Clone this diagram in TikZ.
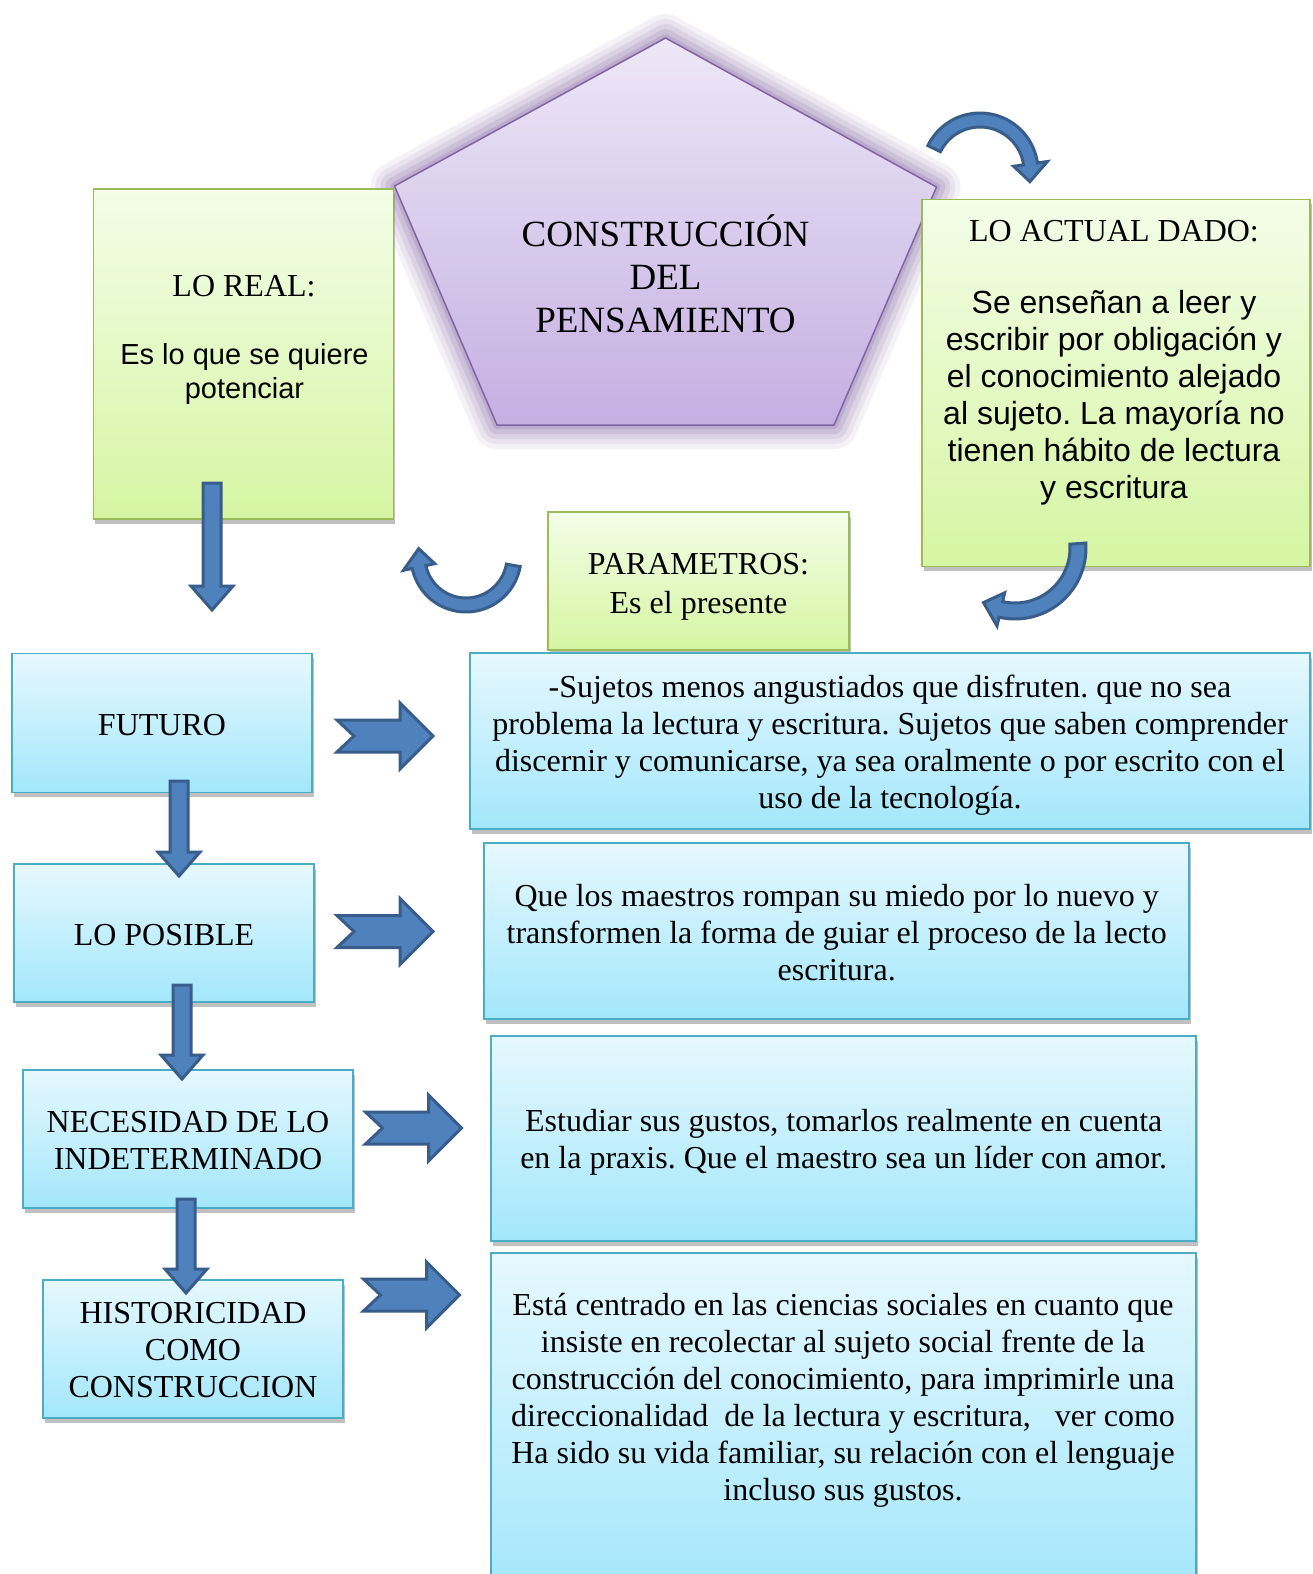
\documentclass[tikz,border=0pt]{standalone}
\usepackage{fontspec}
\setmainfont{Liberation Serif}
\newfontfamily\arialf{Liberation Sans}
\usetikzlibrary{shadows,calc}
\frenchspacing
\definecolor{arrfill}{HTML}{4F81BD}
\definecolor{arrdraw}{HTML}{385D8A}
\definecolor{gtop}{HTML}{F3FDE8}
\definecolor{gbot}{HTML}{D6F5A2}
\definecolor{gline}{HTML}{9BBB59}
\definecolor{btop}{HTML}{E6F8FE}
\definecolor{bbot}{HTML}{A3E7FB}
\definecolor{bline}{HTML}{4BACC6}
\definecolor{ptop}{HTML}{EEE7F7}
\definecolor{pbot}{HTML}{C4AFE2}
\definecolor{pline}{HTML}{8064A2}
% down block arrow between two named coordinates (top, tip)
\newcommand{\DArr}[2]{%
  \draw[barrow] let \p1=(#1), \p2=(#2) in
    (\x1-9pt,\y1) -- (\x1+9pt,\y1) -- (\x1+9pt,\y2+24pt) -- (\x1+21pt,\y2+24pt)
    -- (\x1,\y2) -- (\x1-21pt,\y2+24pt) -- (\x1-9pt,\y2+24pt) -- cycle;}
% notched right block arrow from a named coordinate (tail centre)
\newcommand{\RArr}[1]{%
  \draw[barrow] let \p1=(#1) in
    (\x1,\y1+16pt) -- (\x1+63pt,\y1+16pt) -- (\x1+63pt,\y1+33pt) -- (\x1+96pt,\y1)
    -- (\x1+63pt,\y1-33pt) -- (\x1+63pt,\y1-16pt) -- (\x1,\y1-16pt) -- (\x1+17pt,\y1) -- cycle;}
% curved block arrow: cx cy r1 r2 a1 a2 tipdelta halfheadwidth
\newcommand{\CArr}[8]{%
  \draw[barrow] plot[variable=\t,domain=#5:#6,samples=40] ({#1+#4*cos(\t)},{#2+#4*sin(\t)})
    -- ({#1+((#3+#4)/2+#8)*cos(#6)},{#2+((#3+#4)/2+#8)*sin(#6)})
    -- ({#1+(#3+#4)/2*cos(#6+#7)},{#2+(#3+#4)/2*sin(#6+#7)})
    -- ({#1+((#3+#4)/2-#8)*cos(#6)},{#2+((#3+#4)/2-#8)*sin(#6)})
    -- plot[variable=\t,domain=#6:#5,samples=40] ({#1+#3*cos(\t)},{#2+#3*sin(\t)}) -- cycle;}
\begin{document}
\begin{tikzpicture}[x=1pt,y=-1pt,
  every node/.style={inner sep=0pt,outer sep=0pt},
  shad/.style={drop shadow={shadow xshift=1.5pt,shadow yshift=-4.5pt,opacity=0.35,fill=black!70}},
  gbox/.style={draw=gline,line width=1.8pt,top color=gtop,bottom color=gbot,shad},
  bbox/.style={draw=bline,line width=1.8pt,top color=btop,bottom color=bbot,shad},
  tm/.style={font=\fontsize{32}{37}\selectfont,align=center},
  ar/.style={font=\arialf\fontsize{32}{37}\selectfont,align=center},
  barrow/.style={fill=arrfill,draw=arrdraw,line width=3pt,line join=miter}]
\fill[white] (0,0) rectangle (1313,1574);
\useasboundingbox (0,0) rectangle (1313,1574);

% pentagon
\coordinate (pt) at (665.5,38);
\coordinate (pr) at (936.5,187);
\coordinate (pbr) at (834,425);
\coordinate (pbl) at (497,425);
\coordinate (pl) at (394.5,186);
\foreach \w/\o in {48/0.08,38/0.1,28/0.13,18/0.16,8/0.22}
  \draw[pline,line width=\w pt,opacity=\o,line join=round] (pt)--(pr)--(pbr)--(pbl)--(pl)--cycle;
\path[draw=pline,line width=1.5pt,top color=ptop,bottom color=pbot] (pt)--(pr)--(pbr)--(pbl)--(pl)--cycle;
\node[font=\fontsize{37}{43}\selectfont,align=center] (ptitle) at (665.5,274) {CONSTRUCCIÓN\\DEL\\PENSAMIENTO};

% green boxes
\node[gbox,minimum width=300pt,minimum height=330pt] (loreal) at (243.5,354) {};
\node[tm] (lorealt) at (244,286) {LO REAL:};
\node[font=\arialf\fontsize{29}{33.5}\selectfont,align=center] (lorealb) at (244.5,374) {Es lo que se quiere\\potenciar};

\node[gbox,minimum width=388pt,minimum height=367pt] (actual) at (1116,383) {};
\node[tm] (actualt) at (1114,231) {LO ACTUAL DADO:};
\node[ar] (actualb) at (1114,398) {Se enseñan a leer y\\escribir por obligación y\\el conocimiento alejado\\al sujeto. La mayoría no\\tienen hábito de lectura\\y escritura};

\node[gbox,minimum width=301pt,minimum height=138pt] (param) at (698.5,581) {};
\node[font=\fontsize{32}{39}\selectfont,align=center] (paramt) at (698.5,587) {PARAMETROS:\\Es el presente};

% blue boxes left
\node[bbox,minimum width=300pt,minimum height=139pt] (futuro) at (162,723) {};
\node[tm] (futurot) at (162,725) {FUTURO};
\node[bbox,minimum width=300pt,minimum height=138pt] (posible) at (164,933) {};
\node[tm] (posiblet) at (164,935) {LO POSIBLE};
\node[bbox,minimum width=330pt,minimum height=138pt] (necesidad) at (188,1139) {};
\node[tm] (necesidadt) at (188,1140.5) {NECESIDAD DE LO\\INDETERMINADO};
\node[bbox,minimum width=300pt,minimum height=138pt] (historicidad) at (193,1349) {};
\node[tm] (historicidadt) at (193,1350.5) {HISTORICIDAD\\COMO\\CONSTRUCCION};

% blue boxes right
\node[bbox,minimum width=840pt,minimum height=176pt] (r1) at (890,741) {};
\node[tm] (r1t) at (890,745) {-Sujetos menos angustiados que disfruten. que no sea\\problema la lectura y escritura. Sujetos que saben comprender\\discernir y comunicarse, ya sea oralmente o por escrito con el\\uso de la tecnología.};
\node[bbox,minimum width=705pt,minimum height=176pt] (r2) at (836.7,931) {};
\node[tm] (r2t) at (836.7,932.5) {Que los maestros rompan su miedo por lo nuevo y\\transformen la forma de guiar el proceso de la lecto\\escritura.};
\node[bbox,minimum width=705pt,minimum height=205pt] (r3) at (843.7,1138.5) {};
\node[tm] (r3t) at (843.7,1142) {Estudiar sus gustos, tomarlos realmente en cuenta\\en la praxis. Que el maestro sea un líder con amor.};
\node[bbox,minimum width=705pt,minimum height=340pt] (r4) at (843.7,1423) {};
\node[tm] (r4t) at (843,1400) {Está centrado en las ciencias sociales en cuanto que\\insiste en recolectar al sujeto social frente de la\\construcción del conocimiento, para imprimirle una\\direccionalidad\ \ de la lectura y escritura,\ \ \ ver como\\Ha sido su vida familiar, su relación con el lenguaje\\incluso sus gustos.};

% down arrows
\coordinate (d1a) at (212,483); \coordinate (d1b) at (212,610);
\coordinate (d2a) at (179,781); \coordinate (d2b) at (179,876);
\coordinate (d3a) at (182,985); \coordinate (d3b) at (182,1079);
\coordinate (d4a) at (186,1199); \coordinate (d4b) at (186,1293);
\DArr{d1a}{d1b}
\DArr{d2a}{d2b}
\DArr{d3a}{d3b}
\DArr{d4a}{d4b}

% right arrows
\coordinate (h1) at (337,736);
\coordinate (h2) at (337,931.5);
\coordinate (h3) at (365.5,1128);
\coordinate (h4) at (363.5,1295);
\RArr{h1}
\RArr{h2}
\RArr{h3}
\RArr{h4}

% curved arrows
\CArr{980}{171}{44}{58}{206}{352}{20}{17}
\CArr{466}{557}{41}{55}{10}{168}{22}{16}
\CArr{1015}{548}{55}{71}{-4}{103}{17}{17}
\end{tikzpicture}
\end{document}
